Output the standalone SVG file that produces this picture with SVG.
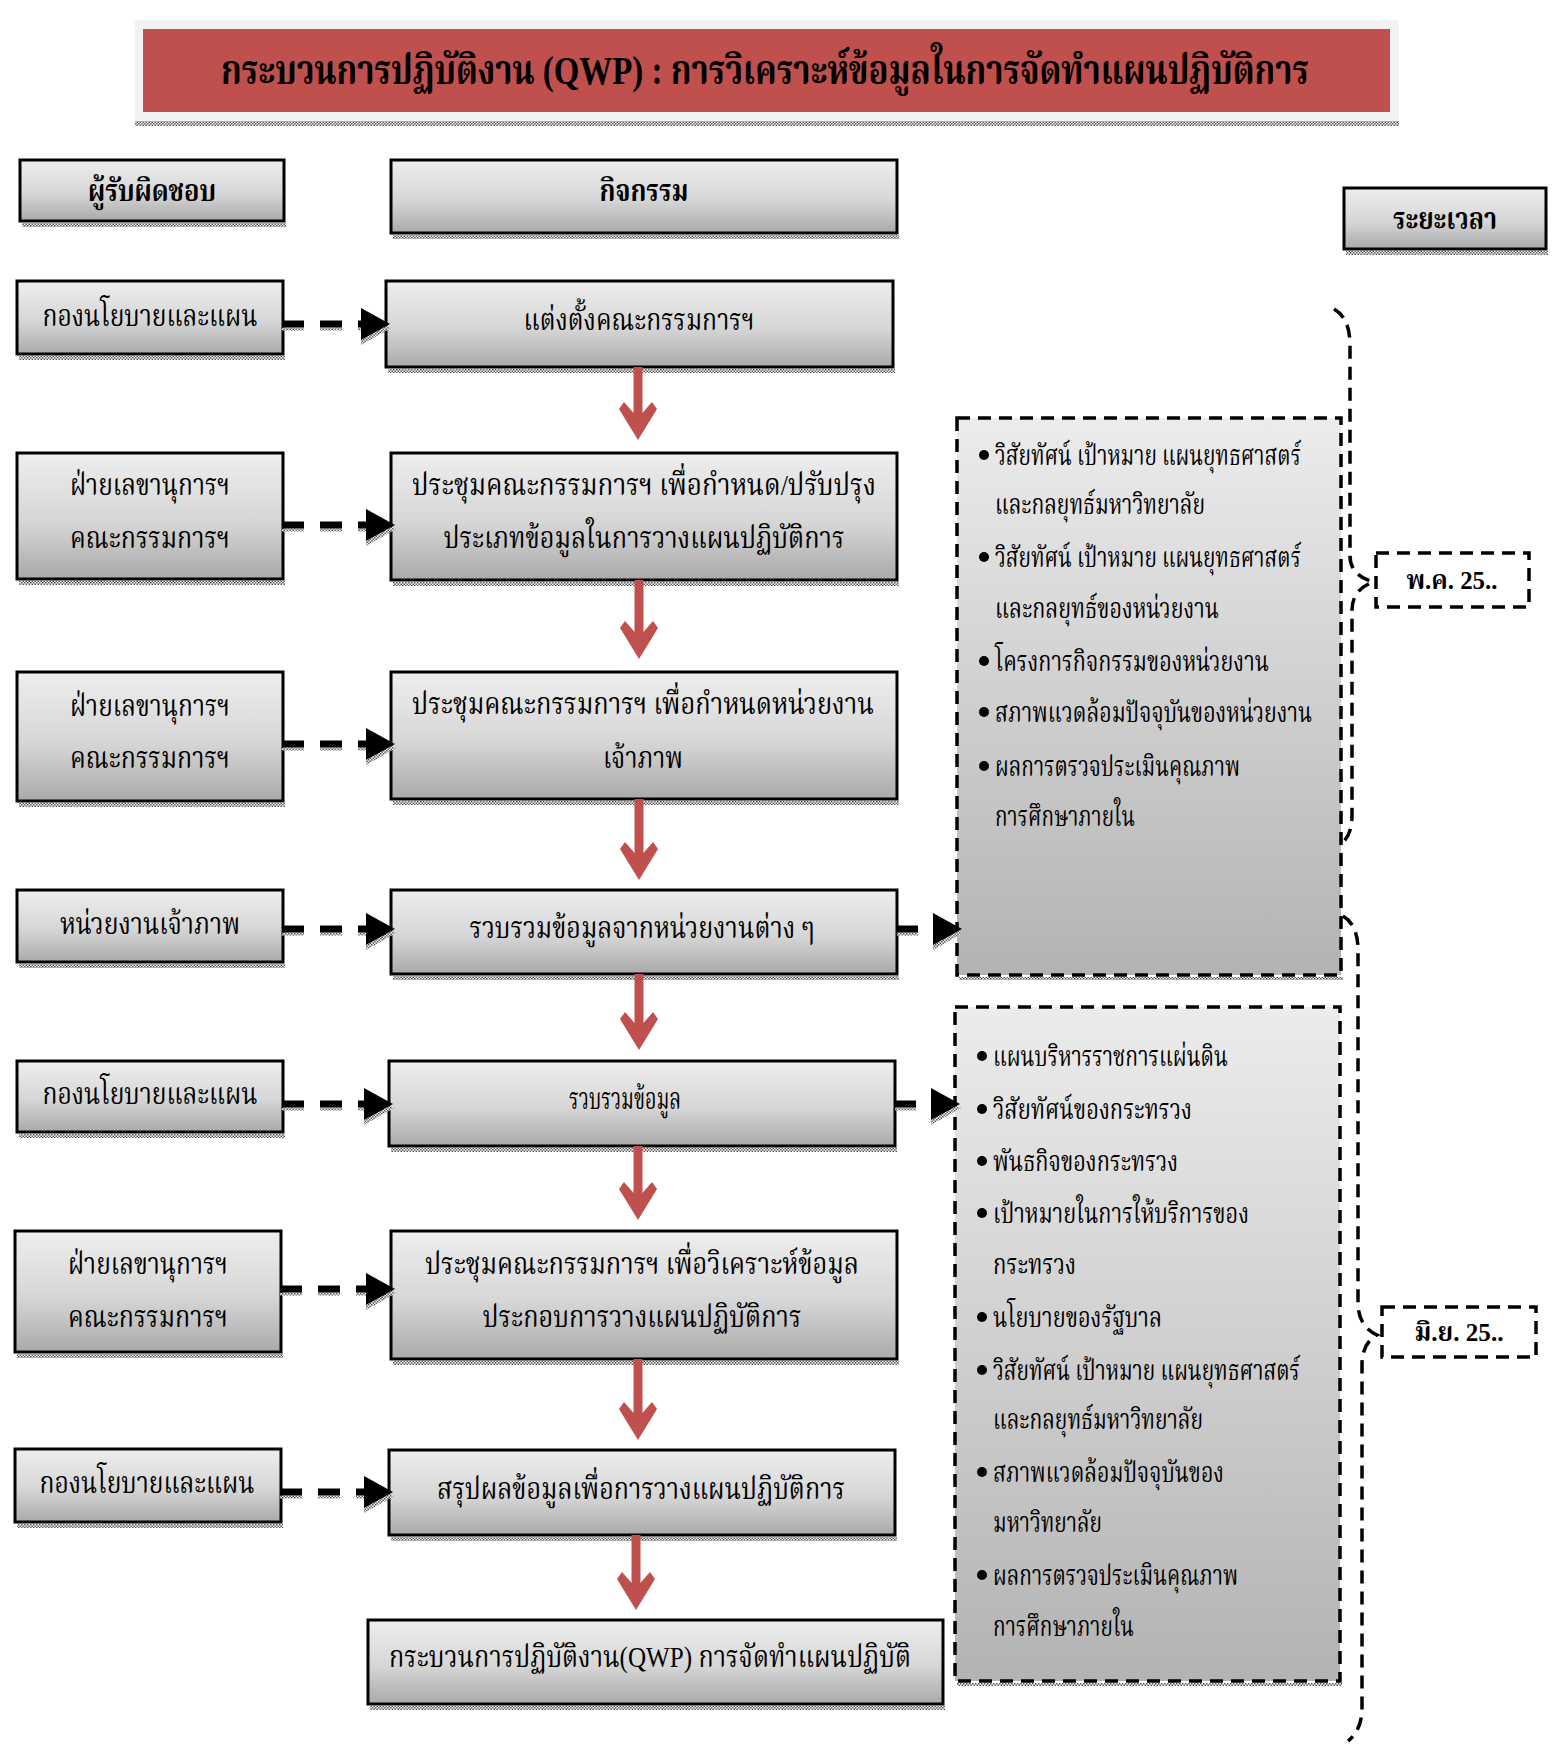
<svg xmlns="http://www.w3.org/2000/svg" xmlns:xlink="http://www.w3.org/1999/xlink" width="1556" height="1761" viewBox="0 0 1556 1761">
<defs>
<linearGradient id="gbox" x1="0" y1="0" x2="0" y2="1">
<stop offset="0" stop-color="#eeeeee"/><stop offset="0.55" stop-color="#d6d6d6"/><stop offset="1" stop-color="#a9a9a9"/>
</linearGradient>
<linearGradient id="gdash" x1="0" y1="0" x2="0" y2="1">
<stop offset="0" stop-color="#ececec"/><stop offset="1" stop-color="#b3b3b3"/>
</linearGradient>
<pattern id="hatch" width="3" height="3" patternUnits="userSpaceOnUse">
<rect width="3" height="3" fill="#ffffff"/><rect width="1.5" height="1.5" fill="#555"/><rect x="1.5" y="1.5" width="1.5" height="1.5" fill="#555"/>
</pattern>
<path id="rhead" d="M0,0 L-19,-31 L-14,-38 L0,-22 L14,-38 L19,-31 Z" fill="#c0504d"/>
<g id="bhead"><path d="M1,4 L-29,21 L-29,-13 Z" fill="url(#hatch)"/><path d="M0,0 L-29,-16 L-29,16 Z" fill="#000"/></g>
<style>
.box{fill:url(#gbox);stroke:#000;stroke-width:3}
.shadow{fill:url(#hatch)}
.dbox{fill:url(#gdash);stroke:#000;stroke-width:3.5;stroke-dasharray:13 8}
.tbox{fill:#fff;stroke:#000;stroke-width:3.5;stroke-dasharray:13 8}
.t{font-family:"Liberation Serif","Noto Serif Thai","Noto Sans Thai",serif;font-size:30px;fill:#000;text-anchor:middle}
.tl{font-family:"Liberation Serif","Noto Serif Thai","Noto Sans Thai",serif;font-size:28px;fill:#000}
.b{font-weight:bold}
.red{stroke:#c0504d;stroke-width:9;fill:none}
.blk{stroke:#000;stroke-width:7;fill:none;stroke-dasharray:22 16}
.blks{stroke:url(#hatch);stroke-width:3;fill:none;stroke-dasharray:22 16}
.brace{stroke:#000;stroke-width:3.5;fill:none;stroke-dasharray:13 8}
</style>
</defs>
<rect width="1556" height="1761" fill="#fff"/>

<g id="title">
<rect x="135" y="20" width="1264" height="104" fill="#f2f2f2"/>
<rect x="135" y="121" width="1264" height="5" class="shadow"/>
<rect x="143" y="29" width="1247" height="83" fill="#c0504d"/>
<text x="765" y="84" class="t b" style="font-size:40px" textLength="1088" lengthAdjust="spacingAndGlyphs">กระบวนการปฏิบัติงาน (QWP) : การวิเคราะห์ข้อมูลในการจัดทำแผนปฏิบัติการ</text>
</g>

<g id="h-resp">
<rect x="22" y="223" width="264" height="4" class="shadow"/>
<rect x="20" y="160" width="264" height="61" class="box"/>
<text x="152" y="201" class="t b" textLength="128" lengthAdjust="spacingAndGlyphs">ผู้รับผิดชอบ</text>
</g>
<g id="h-act">
<rect x="393" y="235" width="506" height="4" class="shadow"/>
<rect x="391" y="160" width="506" height="73" class="box"/>
<text x="644" y="201" class="t b" textLength="89" lengthAdjust="spacingAndGlyphs">กิจกรรม</text>
</g>
<g id="h-time">
<rect x="1346" y="251" width="202" height="4" class="shadow"/>
<rect x="1344" y="188" width="202" height="61" class="box"/>
<text x="1445" y="229" class="t b" textLength="104" lengthAdjust="spacingAndGlyphs">ระยะเวลา</text>
</g>

<!-- responsible -->
<g id="r1">
<rect x="19" y="356" width="266" height="4" class="shadow"/>
<rect x="17" y="281" width="266" height="73" class="box"/>
<text x="150" y="326" class="t" textLength="215" lengthAdjust="spacingAndGlyphs">กองนโยบายและแผน</text>
</g>
<g id="r2">
<rect x="19" y="581" width="266" height="4" class="shadow"/>
<rect x="17" y="453" width="266" height="126" class="box"/>
<text x="150" y="495" class="t" textLength="160" lengthAdjust="spacingAndGlyphs">ฝ่ายเลขานุการฯ</text>
<text x="150" y="548" class="t" textLength="160" lengthAdjust="spacingAndGlyphs">คณะกรรมการฯ</text>
</g>
<g id="r3">
<rect x="19" y="803" width="266" height="4" class="shadow"/>
<rect x="17" y="672" width="266" height="129" class="box"/>
<text x="150" y="716" class="t" textLength="160" lengthAdjust="spacingAndGlyphs">ฝ่ายเลขานุการฯ</text>
<text x="150" y="768" class="t" textLength="160" lengthAdjust="spacingAndGlyphs">คณะกรรมการฯ</text>
</g>
<g id="r4">
<rect x="19" y="964" width="266" height="4" class="shadow"/>
<rect x="17" y="890" width="266" height="72" class="box"/>
<text x="150" y="934" class="t" textLength="180" lengthAdjust="spacingAndGlyphs">หน่วยงานเจ้าภาพ</text>
</g>
<g id="r5">
<rect x="19" y="1134" width="266" height="4" class="shadow"/>
<rect x="17" y="1061" width="266" height="71" class="box"/>
<text x="150" y="1104" class="t" textLength="215" lengthAdjust="spacingAndGlyphs">กองนโยบายและแผน</text>
</g>
<g id="r6">
<rect x="17" y="1354" width="266" height="4" class="shadow"/>
<rect x="15" y="1231" width="266" height="121" class="box"/>
<text x="148" y="1274" class="t" textLength="160" lengthAdjust="spacingAndGlyphs">ฝ่ายเลขานุการฯ</text>
<text x="148" y="1327" class="t" textLength="160" lengthAdjust="spacingAndGlyphs">คณะกรรมการฯ</text>
</g>
<g id="r7">
<rect x="17" y="1524" width="266" height="4" class="shadow"/>
<rect x="15" y="1449" width="266" height="73" class="box"/>
<text x="147" y="1493" class="t" textLength="215" lengthAdjust="spacingAndGlyphs">กองนโยบายและแผน</text>
</g>

<!-- activities -->
<g id="a1">
<rect x="388" y="369" width="507" height="4" class="shadow"/>
<rect x="386" y="281" width="507" height="86" class="box"/>
<text x="639" y="330" class="t" textLength="231" lengthAdjust="spacingAndGlyphs">แต่งตั้งคณะกรรมการฯ</text>
</g>
<g id="a2">
<rect x="393" y="582" width="506" height="4" class="shadow"/>
<rect x="391" y="453" width="506" height="127" class="box"/>
<text x="644" y="495" class="t" textLength="464" lengthAdjust="spacingAndGlyphs">ประชุมคณะกรรมการฯ เพื่อกำหนด/ปรับปรุง</text>
<text x="644" y="548" class="t" textLength="401" lengthAdjust="spacingAndGlyphs">ประเภทข้อมูลในการวางแผนปฏิบัติการ</text>
</g>
<g id="a3">
<rect x="393" y="801" width="506" height="4" class="shadow"/>
<rect x="391" y="672" width="506" height="127" class="box"/>
<text x="643" y="714" class="t" textLength="462" lengthAdjust="spacingAndGlyphs">ประชุมคณะกรรมการฯ เพื่อกำหนดหน่วยงาน</text>
<text x="643" y="768" class="t" textLength="80" lengthAdjust="spacingAndGlyphs">เจ้าภาพ</text>
</g>
<g id="a4">
<rect x="393" y="976" width="506" height="4" class="shadow"/>
<rect x="391" y="890" width="506" height="84" class="box"/>
<text x="642" y="938" class="t" textLength="345" lengthAdjust="spacingAndGlyphs">รวบรวมข้อมูลจากหน่วยงานต่าง ๆ</text>
</g>
<g id="a5">
<rect x="391" y="1148" width="506" height="4" class="shadow"/>
<rect x="389" y="1061" width="506" height="85" class="box"/>
<text x="625" y="1109" class="t" textLength="112" lengthAdjust="spacingAndGlyphs">รวบรวมข้อมูล</text>
</g>
<g id="a6">
<rect x="393" y="1361" width="506" height="4" class="shadow"/>
<rect x="391" y="1231" width="506" height="128" class="box"/>
<text x="642" y="1274" class="t" textLength="434" lengthAdjust="spacingAndGlyphs">ประชุมคณะกรรมการฯ เพื่อวิเคราะห์ข้อมูล</text>
<text x="642" y="1327" class="t" textLength="319" lengthAdjust="spacingAndGlyphs">ประกอบการวางแผนปฏิบัติการ</text>
</g>
<g id="a7">
<rect x="391" y="1537" width="506" height="4" class="shadow"/>
<rect x="389" y="1450" width="506" height="85" class="box"/>
<text x="641" y="1499" class="t" textLength="408" lengthAdjust="spacingAndGlyphs">สรุปผลข้อมูลเพื่อการวางแผนปฏิบัติการ</text>
</g>
<g id="a8">
<rect x="370" y="1706" width="575" height="4" class="shadow"/>
<rect x="368" y="1620" width="575" height="84" class="box"/>
<text x="650" y="1667" class="t" textLength="522" lengthAdjust="spacingAndGlyphs">กระบวนการปฏิบัติงาน(QWP) การจัดทำแผนปฏิบัติ</text>
</g>

<!-- info boxes -->
<g id="info1">
<rect x="959" y="977" width="384" height="3" class="shadow"/>
<rect x="957" y="418" width="384" height="557" class="dbox"/>
<g class="tl">
<circle cx="984" cy="455" r="5"/><text x="995" y="465" textLength="306" lengthAdjust="spacingAndGlyphs">วิสัยทัศน์ เป้าหมาย แผนยุทธศาสตร์</text>
<text x="995" y="514" textLength="210" lengthAdjust="spacingAndGlyphs">และกลยุทธ์มหาวิทยาลัย</text>
<circle cx="984" cy="557" r="5"/><text x="995" y="567" textLength="306" lengthAdjust="spacingAndGlyphs">วิสัยทัศน์ เป้าหมาย แผนยุทธศาสตร์</text>
<text x="995" y="618" textLength="224" lengthAdjust="spacingAndGlyphs">และกลยุทธ์ของหน่วยงาน</text>
<circle cx="984" cy="661" r="5"/><text x="995" y="671" textLength="274" lengthAdjust="spacingAndGlyphs">โครงการกิจกรรมของหน่วยงาน</text>
<circle cx="984" cy="712" r="5"/><text x="995" y="722" textLength="317" lengthAdjust="spacingAndGlyphs">สภาพแวดล้อมปัจจุบันของหน่วยงาน</text>
<circle cx="984" cy="766" r="5"/><text x="995" y="776" textLength="245" lengthAdjust="spacingAndGlyphs">ผลการตรวจประเมินคุณภาพ</text>
<text x="995" y="826" textLength="140" lengthAdjust="spacingAndGlyphs">การศึกษาภายใน</text>
</g>
</g>
<g id="info2">
<rect x="957" y="1683" width="385" height="3" class="shadow"/>
<rect x="955" y="1007" width="385" height="674" class="dbox"/>
<g class="tl">
<circle cx="982" cy="1056" r="5"/><text x="993" y="1066" textLength="235" lengthAdjust="spacingAndGlyphs">แผนบริหารราชการแผ่นดิน</text>
<circle cx="982" cy="1109" r="5"/><text x="993" y="1119" textLength="199" lengthAdjust="spacingAndGlyphs">วิสัยทัศน์ของกระทรวง</text>
<circle cx="982" cy="1161" r="5"/><text x="993" y="1171" textLength="185" lengthAdjust="spacingAndGlyphs">พันธกิจของกระทรวง</text>
<circle cx="982" cy="1213" r="5"/><text x="993" y="1223" textLength="256" lengthAdjust="spacingAndGlyphs">เป้าหมายในการให้บริการของ</text>
<text x="993" y="1274" textLength="83" lengthAdjust="spacingAndGlyphs">กระทรวง</text>
<circle cx="982" cy="1317" r="5"/><text x="993" y="1327" textLength="169" lengthAdjust="spacingAndGlyphs">นโยบายของรัฐบาล</text>
<circle cx="982" cy="1370" r="5"/><text x="993" y="1380" textLength="307" lengthAdjust="spacingAndGlyphs">วิสัยทัศน์ เป้าหมาย แผนยุทธศาสตร์</text>
<text x="993" y="1429" textLength="210" lengthAdjust="spacingAndGlyphs">และกลยุทธ์มหาวิทยาลัย</text>
<circle cx="982" cy="1472" r="5"/><text x="993" y="1482" textLength="231" lengthAdjust="spacingAndGlyphs">สภาพแวดล้อมปัจจุบันของ</text>
<text x="993" y="1532" textLength="109" lengthAdjust="spacingAndGlyphs">มหาวิทยาลัย</text>
<circle cx="982" cy="1575" r="5"/><text x="993" y="1585" textLength="245" lengthAdjust="spacingAndGlyphs">ผลการตรวจประเมินคุณภาพ</text>
<text x="993" y="1636" textLength="141" lengthAdjust="spacingAndGlyphs">การศึกษาภายใน</text>
</g>
</g>

<g id="t1">
<rect x="1376" y="553" width="153" height="54" class="tbox"/>
<text x="1452" y="589" class="t b" style="font-size:26px" textLength="91" lengthAdjust="spacingAndGlyphs">พ.ค. 25..</text>
</g>
<g id="t2">
<rect x="1382" y="1307" width="154" height="50" class="tbox"/>
<text x="1459" y="1341" class="t b" style="font-size:26px" textLength="89" lengthAdjust="spacingAndGlyphs">มิ.ย. 25..</text>
</g>

<g id="connectors">
<!-- red flow arrows -->
<line x1="638" y1="367" x2="638" y2="432" class="red"/><use xlink:href="#rhead" href="#rhead" transform="translate(638,440)"/>
<line x1="639" y1="580" x2="639" y2="651" class="red"/><use xlink:href="#rhead" href="#rhead" transform="translate(639,659)"/>
<line x1="639" y1="799" x2="639" y2="872" class="red"/><use xlink:href="#rhead" href="#rhead" transform="translate(639,880)"/>
<line x1="639" y1="974" x2="639" y2="1042" class="red"/><use xlink:href="#rhead" href="#rhead" transform="translate(639,1050)"/>
<line x1="638" y1="1146" x2="638" y2="1212" class="red"/><use xlink:href="#rhead" href="#rhead" transform="translate(638,1220)"/>
<line x1="638" y1="1359" x2="638" y2="1432" class="red"/><use xlink:href="#rhead" href="#rhead" transform="translate(638,1440)"/>
<line x1="636" y1="1535" x2="636" y2="1602" class="red"/><use xlink:href="#rhead" href="#rhead" transform="translate(636,1610)"/>
<!-- black dashed arrows -->
<line x1="282" y1="329" x2="362" y2="329" class="blks"/><line x1="282" y1="324" x2="362" y2="324" class="blk"/><use xlink:href="#bhead" href="#bhead" transform="translate(390,324)"/>
<line x1="282" y1="530" x2="368" y2="530" class="blks"/><line x1="282" y1="525" x2="368" y2="525" class="blk"/><use xlink:href="#bhead" href="#bhead" transform="translate(395,525)"/>
<line x1="282" y1="749" x2="368" y2="749" class="blks"/><line x1="282" y1="744" x2="368" y2="744" class="blk"/><use xlink:href="#bhead" href="#bhead" transform="translate(395,744)"/>
<line x1="282" y1="934" x2="368" y2="934" class="blks"/><line x1="282" y1="929" x2="368" y2="929" class="blk"/><use xlink:href="#bhead" href="#bhead" transform="translate(395,929)"/>
<line x1="282" y1="1109" x2="366" y2="1109" class="blks"/><line x1="282" y1="1104" x2="366" y2="1104" class="blk"/><use xlink:href="#bhead" href="#bhead" transform="translate(393,1104)"/>
<line x1="280" y1="1294" x2="368" y2="1294" class="blks"/><line x1="280" y1="1289" x2="368" y2="1289" class="blk"/><use xlink:href="#bhead" href="#bhead" transform="translate(395,1289)"/>
<line x1="280" y1="1497" x2="366" y2="1497" class="blks"/><line x1="280" y1="1492" x2="366" y2="1492" class="blk"/><use xlink:href="#bhead" href="#bhead" transform="translate(393,1492)"/>
<line x1="897" y1="934" x2="918" y2="934" class="blks"/><line x1="897" y1="929" x2="918" y2="929" class="blk"/><use xlink:href="#bhead" href="#bhead" transform="translate(962,929)"/>
<line x1="895" y1="1109" x2="916" y2="1109" class="blks"/><line x1="895" y1="1104" x2="916" y2="1104" class="blk"/><use xlink:href="#bhead" href="#bhead" transform="translate(960,1104)"/>
<!-- braces -->
<path d="M1334,309 Q1350,318 1350,345 L1350,556 Q1350,575 1373,582 Q1352,590 1352,610 L1352,815 Q1352,835 1342,843" class="brace"/>
<path d="M1343,916 Q1358,925 1358,950 L1358,1303 Q1358,1326 1377,1335 Q1362,1343 1362,1365 L1362,1708 Q1362,1730 1348,1741" class="brace"/>
</g>
</svg>
